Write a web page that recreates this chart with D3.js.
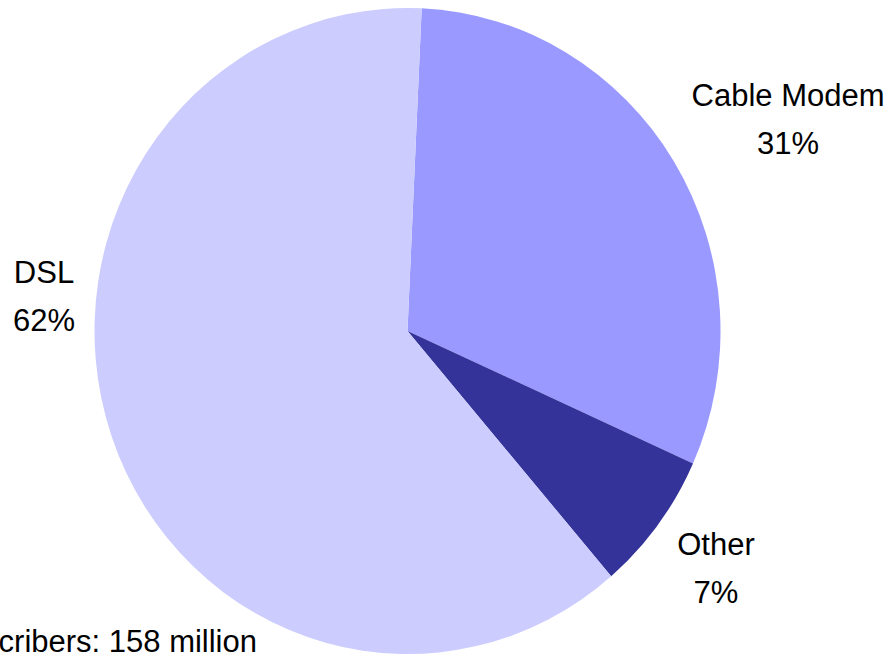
<!DOCTYPE html>
<html>
<head>
<meta charset="utf-8">
<script src="https://cdn.jsdelivr.net/npm/d3@7"></script>
<style>
  html, body { margin: 0; padding: 0; background: #fff; overflow: hidden; }
  svg { display: block; }
  text { font-family: "Liberation Sans", Arial, sans-serif; fill: #000; }
</style>
</head>
<body>
<svg id="chart" width="887" height="654"></svg>
<script>
// Broadband subscribers by access technology (share of total)
const categories = ["Cable Modem", "Other", "DSL"];
const shares = [31, 7, 62];
const colors = ["#9999FF", "#333399", "#CCCCFF"];
const footnote = "Total subscribers: 158 million";

const W = 887, H = 654;
const cx = 407.5, cy = 331, rx = 313, ry = 323;
const fontSize = 31;

const svg = d3.select("#chart");

const pie = d3.pie()
  .sort(null)
  .value(d => d)
  .startAngle(2.6 * Math.PI / 180)
  .endAngle(2 * Math.PI + 2.6 * Math.PI / 180);

const arcs = pie(shares);
const arc = d3.arc().innerRadius(0).outerRadius(rx);

const color = d3.scaleOrdinal().domain(categories).range(colors);

svg.append("g")
  .attr("transform", `translate(${cx},${cy}) scale(1,${ry / rx})`)
  .selectAll("path")
  .data(arcs)
  .join("path")
  .attr("d", arc)
  .attr("fill", (d, i) => color(categories[i]));

// slice labels: name on the first line, percentage below
const labelPos = [
  { x: 788, y: 106 },
  { x: 716, y: 555 },
  { x: 44, y: 283 }
];

const labels = svg.append("g")
  .selectAll("g")
  .data(arcs)
  .join("g")
  .attr("transform", (d, i) => `translate(${labelPos[i].x},${labelPos[i].y})`);

labels.append("text")
  .attr("text-anchor", "middle")
  .attr("font-size", fontSize)
  .text((d, i) => categories[i]);

labels.append("text")
  .attr("text-anchor", "middle")
  .attr("font-size", fontSize)
  .attr("y", 48)
  .text(d => d.data + "%");

svg.append("text")
  .attr("x", 257)
  .attr("y", 652)
  .attr("text-anchor", "end")
  .attr("font-size", fontSize)
  .text(footnote);
</script>
</body>
</html>
